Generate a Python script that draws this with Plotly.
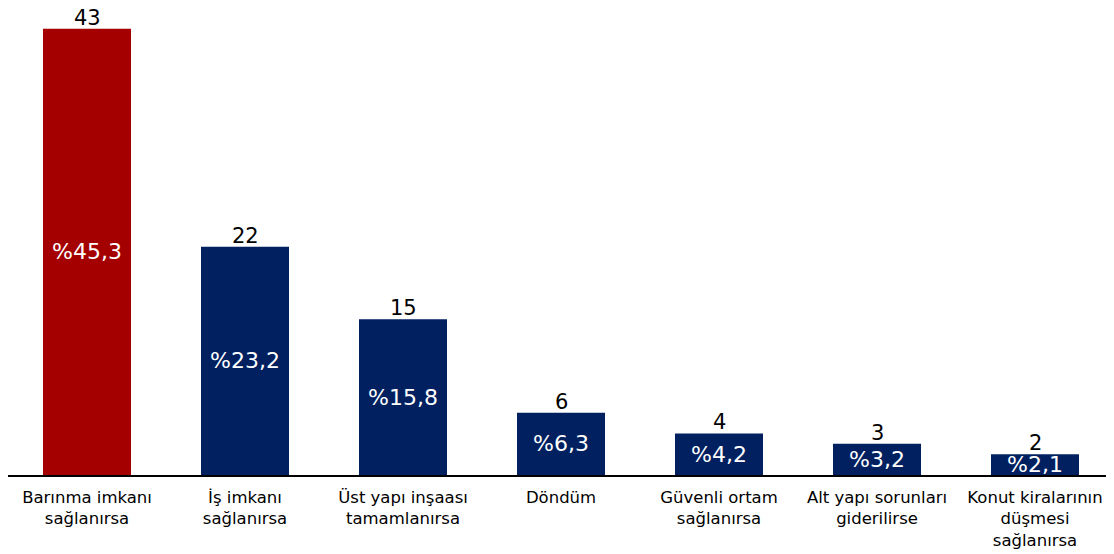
import plotly.graph_objects as go

categories = [
    "Barınma imkanı<br>sağlanırsa",
    "İş imkanı<br>sağlanırsa",
    "Üst yapı inşaası<br>tamamlanırsa",
    "Döndüm",
    "Güvenli ortam<br>sağlanırsa",
    "Alt yapı sorunları<br>giderilirse",
    "Konut kiralarının<br>düşmesi<br>sağlanırsa",
]
counts = [43, 22, 15, 6, 4, 3, 2]
percent_labels = ["%45,3", "%23,2", "%15,8", "%6,3", "%4,2", "%3,2", "%2,1"]

RED = "#A50000"
NAVY = "#002060"
colors = [RED if i == 0 else NAVY for i in range(len(counts))]
FONT = "DejaVu Sans, Verdana, sans-serif"

fig = go.Figure()
fig.add_trace(go.Bar(
    x=categories,
    y=counts,
    marker=dict(color=colors, line=dict(width=0)),
    text=percent_labels,
    textposition="inside",
    insidetextanchor="middle",
    textangle=0,
    textfont=dict(family=FONT, size=22, color="white"),
    cliponaxis=False,
    hoverinfo="skip",
))

for c, v in zip(categories, counts):
    fig.add_annotation(
        x=c, y=v, text=str(v), showarrow=False,
        yanchor="bottom", yshift=-3,
        font=dict(family=FONT, size=21, color="black"),
    )

fig.update_layout(
    width=1106, height=546,
    margin=dict(l=0, r=0, t=12, b=79, autoexpand=False),
    paper_bgcolor="white", plot_bgcolor="white",
    bargap=0.443,
    showlegend=False,
    uniformtext=dict(minsize=22, mode="show"),
    font=dict(family=FONT, color="black"),
)
fig.update_xaxes(
    showline=True, linecolor="black", linewidth=2,
    showgrid=False, ticks="", automargin=False,
    ticklabelstandoff=6,
    tickfont=dict(family=FONT, size=16.5, color="black"),
)
fig.update_yaxes(
    range=[0, 43.85], visible=False, showgrid=False, zeroline=False,
    automargin=False,
)

fig.write_html("out.html")
